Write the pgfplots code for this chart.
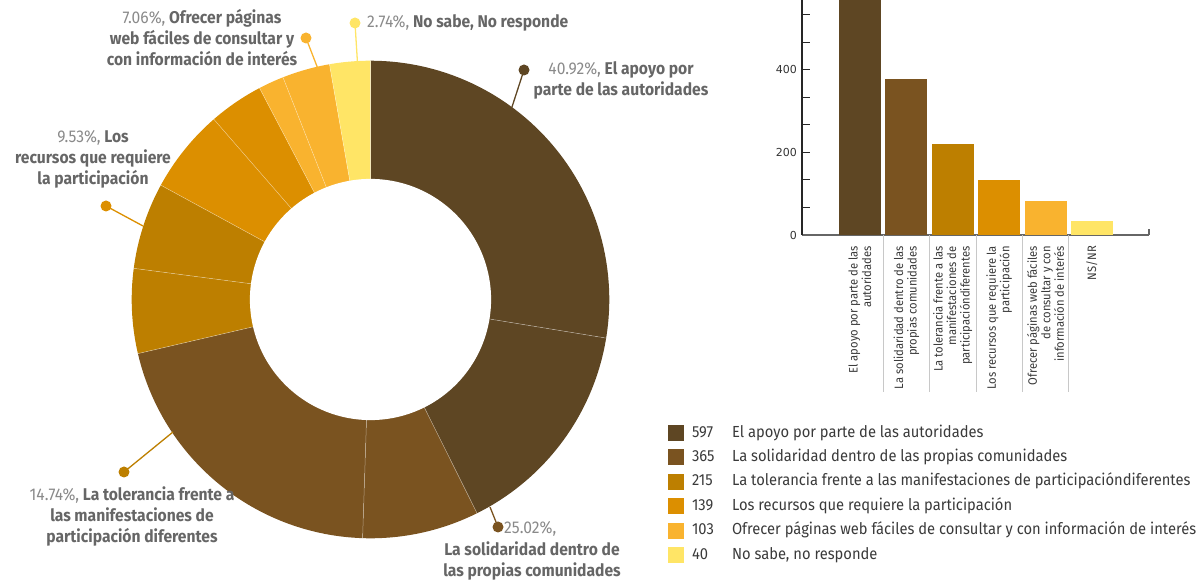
\documentclass[border=0pt]{standalone}
\usepackage{pgfplots}
\pgfplotsset{compat=1.18}
\usepackage{pgfplotstable}
\usepackage{fontspec}
\setmainfont{Fira Sans}[FakeStretch=0.92]
\newfontfamily\tickfont{DejaVu Sans}

\definecolor{c1}{HTML}{5E4623}
\definecolor{c2}{HTML}{7A5320}
\definecolor{c3}{HTML}{BD7F00}
\definecolor{c4}{HTML}{DC8F00}
\definecolor{c5}{HTML}{F9B32F}
\definecolor{c6}{HTML}{FFE566}
\definecolor{pct}{HTML}{8A8A8A}
\definecolor{lbl}{HTML}{666666}
\definecolor{txt}{HTML}{3A3A3A}
\definecolor{sepgray}{HTML}{C8C8C8}
\definecolor{axisgray}{HTML}{666666}

\newcommand{\pc}[1]{{\color{pct}\mdseries #1}}

% donut pieces, clockwise from 12 o'clock (read off the ring, in degrees)
\pgfplotstableread{
val col
99.3 c1
54.2 c1
28.4 c2
75.0 c2
20.6 c3
21.1 c3
20.4 c4
13.3 c4
6.2  c5
11.6 c5
9.9  c6
}\donutdata

\begin{document}
\begin{tikzpicture}
\useasboundingbox (0pt,0pt) rectangle (1197pt,583pt);

% ---- donut ----
\begin{axis}[
  at={(370.5pt,283.5pt)}, anchor=origin,
  width=477.6pt, height=477.6pt, scale only axis,
  xmin=-1, xmax=1, ymin=-1, ymax=1,
  hide axis, clip=false,
]
\xdef\cum{0}
\pgfplotsinvokeforeach{0,...,10}{%
  \pgfplotstablegetelem{#1}{val}\of\donutdata \let\sval\pgfplotsretval
  \pgfplotstablegetelem{#1}{col}\of\donutdata \let\scol\pgfplotsretval
  \pgfmathsetmacro{\sa}{\cum}%
  \pgfmathsetmacro{\sb}{\cum+\sval}%
  \xdef\cum{\sb}%
  \edef\temp{\noexpand\addplot[fill=\scol, draw=none, domain=\sa:\sb, samples=60, variable=\noexpand\t]
    ({sin(\noexpand\t)},{cos(\noexpand\t)}) -- (axis cs:0,0) -- cycle;}%
  \temp
}
\addplot[fill=white, draw=none, domain=0:360, samples=181] ({0.505*sin(x)},{0.505*cos(x)}) -- cycle;
\xdef\cum{0}
\pgfplotsinvokeforeach{0,...,10}{%
  \pgfplotstablegetelem{#1}{val}\of\donutdata
  \pgfmathsetmacro{\sb}{\cum+\pgfplotsretval}%
  \xdef\cum{\sb}%
  \edef\temp{\noexpand\addplot[white, opacity=0.45, line width=0.5pt, domain=0.5:1, samples=2]
    ({x*sin(\sb)},{x*cos(\sb)});}%
  \temp
}
\end{axis}

% leader lines
\draw[c6, line width=1.3pt] (355pt,560pt) -- (357.5pt,520pt);
\fill[c6] (355pt,560pt) circle (5.5pt);
\draw[c5, line width=1.3pt] (306pt,545pt) -- (318pt,514pt);
\fill[c5] (306pt,545pt) circle (5.5pt);
\draw[c1, line width=1.3pt] (524pt,513pt) -- (511pt,473pt);
\fill[c1] (524pt,513pt) circle (5.5pt);
\draw[c4, line width=1.3pt] (106pt,377pt) -- (143pt,357pt);
\fill[c4] (106pt,377pt) circle (5.5pt);
\draw[c3, line width=1.3pt] (124pt,111pt) -- (173pt,151pt);
\fill[c3] (124pt,111pt) circle (5.5pt);
\draw[c2, line width=1.3pt] (498pt,56pt) -- (490pt,76pt);
\fill[c2] (498pt,56pt) circle (5.5pt);

% slice labels
\tikzset{lab/.style={font=\fontsize{17}{21}\selectfont\bfseries, text=lbl, align=center, inner sep=0pt}}
\node[lab, anchor=west] at (367pt,560pt) {\pc{2.74\%,} No sabe, No responde};
\node[lab] at (202pt,545pt) {\pc{7.06\%,} Ofrecer páginas\\web fáciles de consultar y\\con información de interés};
\node[lab] at (621pt,503pt) {\pc{40.92\%,} El apoyo por\\parte de las autoridades};
\node[lab] at (93pt,424pt) {\pc{9.53\%,} Los\\recursos que requiere\\la participación};
\node[lab] at (132pt,67pt) {\pc{14.74\%,} La tolerancia frente a\\las manifestaciones de\\participación diferentes};
\node[lab, anchor=west] at (504pt,54pt) {\pc{25.02\%,}};
\node[lab] at (532pt,22pt) {La solidaridad dentro de\\las propias comunidades};

% ---- bars ----
\begin{axis}[
  at={(802pt,348pt)}, anchor=south west,
  width=347pt, height=235pt, scale only axis,
  xmin=-1.25, xmax=6.23, ymin=0, ymax=569,
  clip=false,
  axis x line*=bottom, axis y line*=left,
  axis line style={-},
  x axis line style={draw=axisgray, line width=1.2pt},
  y axis line style={draw=black!85, line width=1.3pt},
  ybar, bar width=42pt,
  ytick={0,200,400,600}, yticklabels={0,200,400,600},
  minor y tick num=2,
  tick align=inside,
  major tick length=8pt, minor tick length=8pt,
  y tick style={draw=black!85, line width=1pt},
  yticklabel style={font=\tickfont\fontsize{11}{13}\selectfont, text=black!80, inner sep=0pt},
  yticklabel shift=5pt,
  xtick={0,...,5},
  x tick style={draw=none},
  xticklabels={{El apoyo por parte de las\\autoridades},
               {La solidaridad dentro de las\\propias comunidades},
               {La tolerancia frente a las\\manifestaciones de\\participacióndiferentes},
               {Los recursos que requiere la\\participación},
               {Ofrecer páginas web fáciles\\de consultar y con\\información de interés},
               {NS/NR}},
  xticklabel style={rotate=90, anchor=east, align=right,
    font=\fontsize{12.2}{13.5}\selectfont, text=txt, inner sep=0pt},
  xticklabel shift=11pt,
  legend style={at={(-0.386,-0.8085)}, anchor=north west, draw=none, fill=none,
    inner sep=0pt, outer sep=0pt, row sep=8.4pt, column sep=8pt,
    font=\fontsize{16}{16}\selectfont, text=txt,
    nodes={inner sep=0pt, text height=12pt, text depth=4pt, anchor=west}},
  legend cell align=left,
  every axis plot post/.append style={legend image code/.code={\draw[##1, draw=none] (0pt,-8pt) rectangle (16pt,8pt);}},
]
\addplot[fill=c1, draw=none, bar shift=0pt] coordinates {(0,597)};
\addlegendentry{\makebox[40pt][l]{597}El apoyo por parte de las autoridades}
\addplot[fill=c2, draw=none, bar shift=0pt] coordinates {(1,378)};
\addlegendentry{\makebox[40pt][l]{365}La solidaridad dentro de las propias comunidades}
\addplot[fill=c3, draw=none, bar shift=0pt] coordinates {(2,220)};
\addlegendentry{\makebox[40pt][l]{215}La tolerancia frente a las manifestaciones de participacióndiferentes}
\addplot[fill=c4, draw=none, bar shift=0pt] coordinates {(3,133)};
\addlegendentry{\makebox[40pt][l]{139}Los recursos que requiere la participación}
\addplot[fill=c5, draw=none, bar shift=0pt] coordinates {(4,82)};
\addlegendentry{\makebox[40pt][l]{103}Ofrecer páginas web fáciles de consultar y con información de interés}
\addplot[fill=c6, draw=none, bar shift=0pt] coordinates {(5,34)};
\addlegendentry{\makebox[40pt][l]{40}No sabe, no responde}
\pgfplotsinvokeforeach{0.5,1.5,2.5,3.5,4.5}{\draw[sepgray, line width=0.8pt] (axis cs:#1,0) -- ++(0pt,-157pt);}
\draw[axisgray, line width=1.2pt] (rel axis cs:1,0) -- ++(0pt,6pt);
\end{axis}
\end{tikzpicture}
\end{document}
